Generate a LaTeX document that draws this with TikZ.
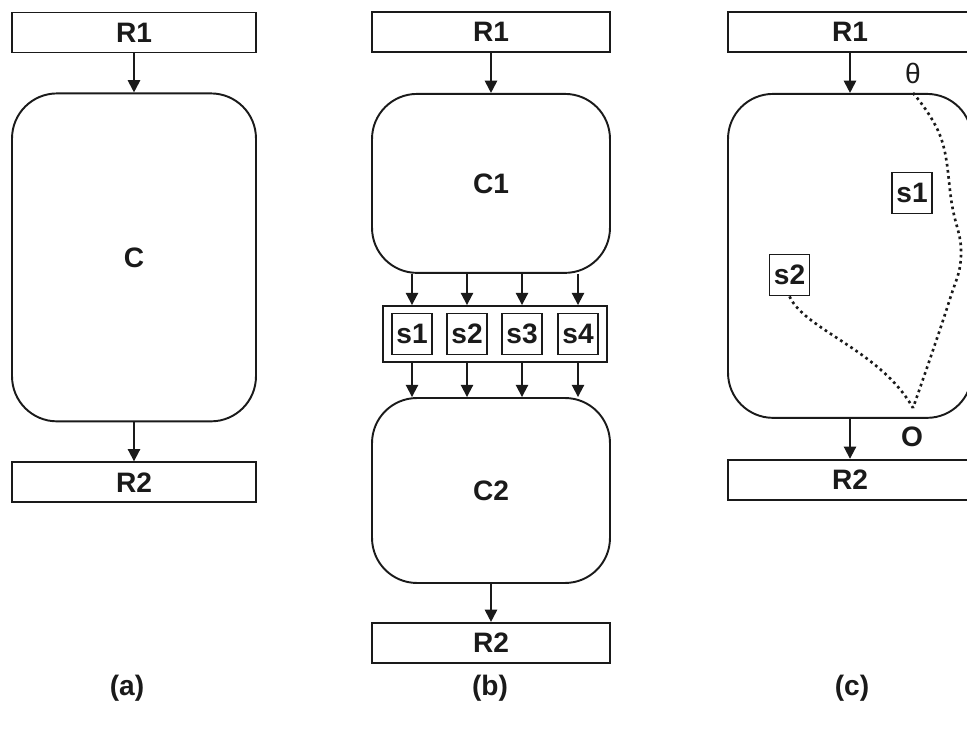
\documentclass[tikz,border=0pt]{standalone}
\usepackage{fontspec}
\setmainfont{Liberation Sans}
\usepackage{tikz}
\usetikzlibrary{arrows.meta,positioning,fit}
\definecolor{ink}{HTML}{1A1A1A}
\tikzset{
  lbl/.style={font=\fontsize{16}{19}\selectfont\bfseries,text=ink},
  regbox/.style={draw=ink,line width=1.1pt,minimum width=4.88cm,minimum height=0.80cm,inner sep=0pt,lbl},
  combox/.style={draw=ink,line width=1.1pt,rounded corners=0.9cm,minimum width=4.88cm,inner sep=0pt,lbl},
  sbox/.style={draw=ink,line width=1.1pt,minimum width=0.80cm,minimum height=0.82cm,inner sep=0pt,lbl},
  flow/.style={-{Triangle[length=7pt,width=7pt]},line width=1.1pt,draw=ink},
  trace/.style={dotted,line width=1.5pt,draw=ink}
}

\begin{document}
\begin{tikzpicture}[x=0.02cm,y=-0.02cm]
    \clip (0,0) rectangle (967,736);
    % (a) one block
    \node[regbox] (ra1) at (134,32.5) {R1};
    \node[combox,minimum height=6.56cm,below=0.78cm of ra1] (ca) {C};
    \node[regbox,below=0.78cm of ca] (ra2) {R2};
    \draw[flow] (ra1)--(ca); \draw[flow] (ca)--(ra2);
    \node[lbl] (capa) at (127,688) {(a)};
    % (b) split into C1 / C2 with s1..s4 between
    \node[regbox,minimum width=4.76cm] (rb1) at (491,32) {R1};
    \node[combox,minimum width=4.76cm,minimum height=3.58cm,below=0.80cm of rb1] (cb1) {C1};
    \foreach \i/\x in {1/412,2/467,3/522,4/578}
      \node[sbox] (s\i) at (\x,334) {s\i};
    \node[draw=ink,line width=1.1pt,inner xsep=0.16cm,inner ysep=0.13cm,fit=(s1)(s4)] (strip) {};
    \node[combox,minimum width=4.76cm,minimum height=3.70cm] (cb2) at (491,490.5) {C2};
    \node[regbox,minimum width=4.76cm,below=0.76cm of cb2] (rb2) {R2};
    \draw[flow] (rb1)--(cb1);
    \foreach \i in {1,...,4} {
      \draw[flow] (cb1.south -| s\i) -- (strip.north -| s\i);
      \draw[flow] (strip.south -| s\i) -- (cb2.north -| s\i);
    }
    \draw[flow] (cb2)--(rb2);
    \node[lbl] (capb) at (490,688) {(b)};
    % (c) one block with traced paths
    \node[regbox] (rc1) at (850,32) {R1};
    \node[combox,minimum height=6.48cm,below=0.80cm of rc1] (cc) {};
    \node[regbox,below=0.80cm of cc] (rc2) {R2};
    \draw[flow] (rc1)--(cc); \draw[flow] (cc)--(rc2);
    \node[sbox] (cs1) at (912,193) {s1};
    \node[sbox] (cs2) at (789.5,275) {s2};
    \node[font=\fontsize{16}{19}\selectfont,text=ink] (theta) at (913,73) {θ};
    \node[lbl] (orig) at (912,437) {O};
    \coordinate (tp) at (theta |- cc.north);
    \coordinate (op) at (913,408);
    \draw[trace] plot[smooth,tension=0.7] coordinates {(tp) (941,138) (952,205) (961,255) (948,305) (op)};
    \draw[trace] (cs2.south) .. controls (805,330) and (880,350) .. (op);
    \node[lbl] (capc) at (852,688) {(c)};
  \end{tikzpicture}
\end{document}
